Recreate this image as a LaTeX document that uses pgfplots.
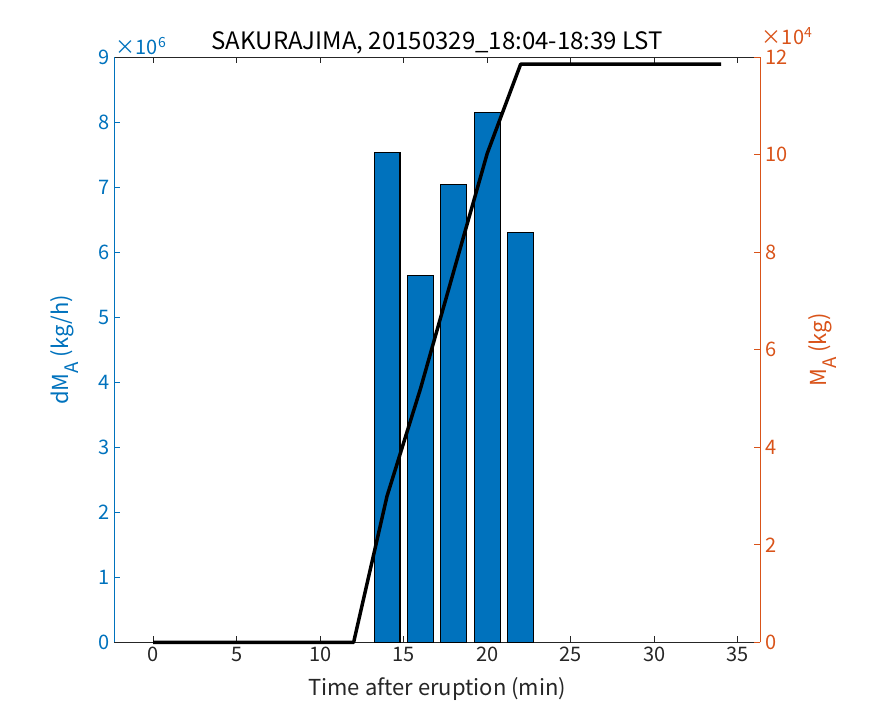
\documentclass[border=0pt]{standalone}
\usepackage{fontspec}
\setmainfont{Noto Sans CJK JP}
\usepackage{pgfplots}
\pgfplotsset{compat=1.18}
\definecolor{mblue}{RGB}{0,114,189}
\definecolor{morange}{RGB}{217,83,25}
\definecolor{mgray}{RGB}{38,38,38}
\newcommand{\subA}{\raisebox{-0.45em}{\fontsize{14}{15}\selectfont A}}
\begin{document}
\begin{tikzpicture}
\useasboundingbox (-85.7pt,-60.75pt) rectangle (570.5pt,481.75pt);
\begin{axis}[
  scale only axis, width=484.5pt, height=438.75pt,
  at={(0,0)}, anchor=south west,
  xmin=-2.33, xmax=36.35, ymin=0, ymax=9e6,
  axis x line=box, axis y line*=left,
  xtick={0,5,...,35}, ytick={0,1e6,2e6,3e6,4e6,5e6,6e6,7e6,8e6,9e6},
  scaled y ticks=base 10:-6,
  ytick scale label code/.code={},
  yticklabel={\pgfmathprintnumber[fixed,precision=0]{\tick}},
  tick align=inside, major tick length=4.5pt,
  x tick style={mgray, line width=0.6pt},
  y tick style={mblue, line width=0.6pt},
  x axis line style={mgray, line width=0.6pt},
  y axis line style={mblue, line width=0.6pt},
  /pgf/number format/assume math mode=true,
  x tick label style={font=\fontsize{15}{17}\selectfont, text=mgray},
  y tick label style={font=\fontsize{15}{17}\selectfont, text=mblue},
  xlabel={Time after eruption (min)},
  xlabel style={font=\fontsize{16.5}{18}\selectfont, text=mgray, yshift=-5pt},
  ylabel={dM\subA\ (kg/h)},
  ylabel style={font=\fontsize{16.5}{18}\selectfont, text=mblue, yshift=8pt},
  title={SAKURAJIMA, 20150329\_18:04-18:39 LST},
  title style={font=\fontsize{18}{20}\selectfont, text=black, yshift=-7pt},
  clip=false,
]
\addplot[ybar, bar width=1.55, fill=mblue, draw=black, line width=0.8pt]
  coordinates {(14,7.54e6) (16,5.64e6) (18,7.05e6) (20,8.15e6) (22,6.31e6)};
\node[anchor=south west, text=mblue, font=\fontsize{15}{17}\selectfont, inner sep=1pt] at ([yshift=1pt]rel axis cs:0,1) {×10\textsuperscript{6}};
\end{axis}
\begin{axis}[
  scale only axis, width=484.5pt, height=438.75pt,
  at={(0,0)}, anchor=south west,
  xmin=-2.33, xmax=36.35, ymin=0, ymax=12e4,
  axis x line=none, axis y line*=right,
  ytick={0,2e4,4e4,6e4,8e4,10e4,12e4},
  scaled y ticks=base 10:-4,
  ytick scale label code/.code={},
  yticklabel={\pgfmathprintnumber[fixed,precision=0]{\tick}},
  tick align=inside, major tick length=4.5pt,
  y tick style={morange, line width=0.6pt},
  y axis line style={morange, line width=0.6pt},
  /pgf/number format/assume math mode=true,
  y tick label style={font=\fontsize{15}{17}\selectfont, text=morange},
  ylabel={M\subA\ (kg)},
  ylabel style={font=\fontsize{16.5}{18}\selectfont, text=morange, yshift=-9pt},
  clip=false,
]
\addplot[black, line width=2.6pt, line join=round] coordinates {
  (0,0) (2,0) (4,0) (6,0) (8,0) (10,0) (12,0) (14,3.0e4) (16,5.2e4)
  (18,7.62e4) (20,10.03e4) (22,11.86e4) (24,11.86e4) (26,11.86e4)
  (28,11.86e4) (30,11.86e4) (32,11.86e4) (34,11.86e4)};
\node[anchor=south west, text=morange, font=\fontsize{15}{17}\selectfont, inner sep=1pt] at ([yshift=8pt]rel axis cs:1,1) {×10\textsuperscript{4}};
\end{axis}
\end{tikzpicture}
\end{document}
